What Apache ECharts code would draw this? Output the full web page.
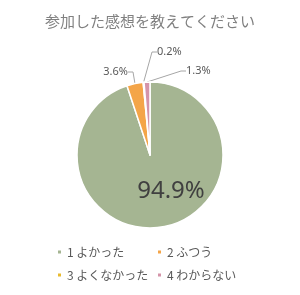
<!DOCTYPE html>
<html>
<head>
<meta charset="utf-8">
<script src="https://cdn.jsdelivr.net/npm/echarts@6/dist/echarts.min.js"></script>
<style>
  html, body { margin: 0; padding: 0; background: #fff; }
  #chart { width: 300px; height: 295px; }
</style>
</head>
<body>
<div id="chart"></div>
<script>
const titleText = "参加した感想を教えてください";
const categories = ["1 よかった", "2 ふつう", "3 よくなかった", "4 わからない"];
const percents = [94.9, 3.6, 0.2, 1.3];
const colors = ["#a5b592", "#f4a548", "#e9ba2e", "#d494a9"];
// legend columns: left column and right column
const legendCols = [[categories[0], categories[2]], [categories[1], categories[3]]];

// where each label sits
const labelSpots = [
  { x: 171, y: 191, align: "center" },
  { x: 128, y: 72, align: "right" },
  { x: 157, y: 52, align: "left" },
  { x: 186, y: 71, align: "left" },
];

const chart = echarts.init(document.getElementById("chart"));

const legendBase = {
  orient: "vertical",
  top: 243,
  padding: 0,
  itemWidth: 5,
  itemHeight: 5,
  itemGap: 5,
  icon: "rect",
  textStyle: {
    fontFamily: "Noto Sans CJK JP",
    fontSize: 12,
    lineHeight: 18,
    color: "#595959",
  },
};

const option = {
  animation: false,
  color: colors,
  title: {
    text: titleText,
    left: "center",
    top: 9,
    textStyle: {
      fontFamily: "Noto Sans CJK JP",
      fontSize: 15,
      fontWeight: "normal",
      color: "#808080",
    },
  },
  legend: [
    Object.assign({}, legendBase, { left: 56, data: legendCols[0] }),
    Object.assign({}, legendBase, { left: 156, data: legendCols[1] }),
  ],
  series: [
    {
      type: "pie",
      center: [150, 155],
      radius: 73,
      startAngle: 90,
      clockwise: true,
      itemStyle: { borderColor: "#fff", borderWidth: 1.5 },
      label: {
        show: true,
        formatter: (p) => p.value.toFixed(1) + "%",
        fontFamily: "Noto Sans",
        fontSize: 11,
        color: "#595959",
      },
      labelLine: {
        show: true,
        length: 10,
        length2: 5,
        lineStyle: { color: "#a6a6a6", width: 1 },
      },
      labelLayout: (params) => {
        const s = labelSpots[params.dataIndex];
        return { x: s.x, y: s.y, align: s.align, verticalAlign: "middle" };
      },
      data: categories.map((name, i) => {
        const d = { name: name, value: percents[i] };
        if (i === 0) {
          d.label = { position: "inside", fontSize: 24, color: "#404040" };
          d.labelLine = { show: false };
        }
        return d;
      }),
    },
  ],
};

chart.setOption(option);
</script>
</body>
</html>
